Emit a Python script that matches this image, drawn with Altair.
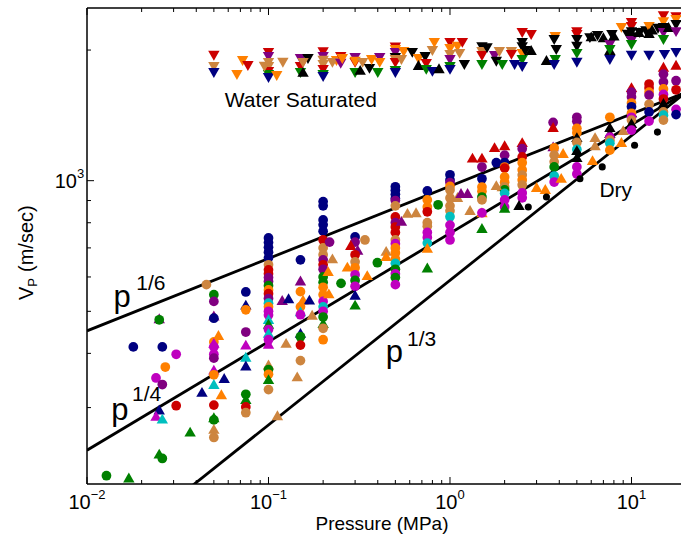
import altair as alt
import pandas as pd

# ---------------- colours of the rock samples ----------------
COLOR_CODES = ["N", "R", "P", "O", "T", "G", "C", "M", "K"]
COLOR_VALUES = ["#000080", "#cc0000", "#800080", "#ff8000", "#cd853f",
                "#008000", "#00bfbf", "#bf00bf", "#000000"]

# (pressure MPa, Vp m/s, colour, marker)  o = dry circle, ^ = dry triangle, v = water saturated
dry_low = [
    (0.0128, 209, "G", "o"), (0.017, 207, "G", "^"), (0.018, 414, "N", "o"), (0.026, 414, "N", "o"),
    (0.031, 398, "M", "o"), (0.027, 372, "O", "o"), (0.024, 351, "M", "o"), (0.026, 339, "P", "o"),
    (0.025, 297, "N", "^"), (0.024, 287, "M", "^"), (0.026, 283, "C", "^"), (0.031, 303, "R", "o"),
    (0.025, 235, "G", "^"), (0.026, 229, "G", "o"), (0.037, 264, "G", "^"), (0.025, 482, "P", "^"),
    (0.025, 478, "G", "o"), (0.043, 326, "N", "^"), (0.0455, 576, "T", "o"), (0.05, 546, "G", "o"),
    (0.05, 527, "P", "o"), (0.05, 489, "P", "^"), (0.05, 482, "N", "o"), (0.053, 441, "O", "^"),
    (0.05, 425, "O", "o"), (0.05, 423, "M", "^"), (0.05, 414, "M", "o"), (0.05, 398, "M", "o"),
    (0.05, 390, "P", "o"), (0.05, 367, "M", "^"), (0.05, 357, "O", "o"), (0.05, 340, "C", "^"),
    (0.057, 351, "N", "^"), (0.055, 322, "O", "^"), (0.05, 304, "R", "o"), (0.05, 285, "G", "^"),
    (0.05, 281, "G", "o"), (0.05, 268, "T", "^"), (0.05, 256, "T", "o"),
    (0.075, 554, "N", "o"), (0.075, 518, "N", "^"), (0.075, 504, "O", "o"), (0.075, 448, "P", "o"),
    (0.075, 419, "M", "^"), (0.075, 393, "C", "^"), (0.075, 375, "N", "^"), (0.075, 322, "G", "o"),
    (0.075, 314, "G", "^"), (0.075, 301, "R", "o"), (0.075, 292, "T", "o"),
]

dry_01_03 = [
    (0.1, 738, "N", "o"), (0.1, 720, "N", "o"), (0.1, 702, "N", "o"), (0.1, 684, "N", "o"),
    (0.1, 664, "N", "o"), (0.1, 640, "T", "o"), (0.1, 623, "R", "o"), (0.1, 610, "R", "o"),
    (0.1, 598, "P", "o"), (0.1, 586, "P", "o"), (0.1, 573, "G", "o"), (0.1, 560, "O", "o"),
    (0.1, 549, "R", "o"), (0.1, 535, "P", "o"), (0.1, 522, "C", "o"), (0.1, 512, "O", "o"),
    (0.1, 500, "M", "o"), (0.1, 490, "M", "o"), (0.1, 480, "C", "^"), (0.1, 468, "G", "^"),
    (0.1, 454, "M", "o"), (0.1, 446, "C", "^"), (0.1, 430, "M", "o"), (0.1, 421, "M", "^"),
    (0.1, 377, "T", "^"), (0.1, 367, "G", "o"), (0.1, 358, "O", "o"), (0.1, 349, "G", "^"),
    (0.1, 330, "T", "o"), (0.112, 288, "T", "^"), (0.125, 423, "T", "^"), (0.119, 531, "P", "^"),
    (0.129, 536, "N", "^"),
    (0.15, 657, "N", "o"), (0.15, 589, "P", "^"), (0.15, 555, "O", "o"), (0.155, 532, "O", "^"),
    (0.168, 532, "N", "^"), (0.15, 512, "O", "o"), (0.15, 500, "C", "^"), (0.15, 491, "M", "o"),
    (0.15, 446, "N", "^"), (0.15, 437, "G", "o"), (0.15, 418, "R", "o"), (0.15, 385, "T", "o"),
    (0.144, 354, "T", "^"), (0.174, 491, "T", "^"),
    (0.2, 895, "N", "o"), (0.2, 875, "N", "o"), (0.2, 812, "N", "o"), (0.2, 791, "N", "o"),
    (0.2, 765, "N", "o"), (0.2, 730, "R", "o"), (0.2, 700, "T", "o"), (0.2, 675, "T", "o"),
    (0.2, 657, "P", "o"), (0.2, 640, "R", "o"), (0.2, 625, "P", "o"), (0.2, 600, "G", "o"),
    (0.2, 583, "G", "o"), (0.2, 568, "O", "o"), (0.2, 546, "O", "o"), (0.2, 527, "M", "o"),
    (0.2, 512, "C", "o"), (0.2, 500, "M", "o"), (0.2, 485, "G", "o"), (0.2, 470, "G", "^"),
    (0.2, 457, "T", "o"), (0.2, 430, "O", "o"), (0.217, 722, "P", "o"), (0.225, 662, "T", "^"),
    (0.213, 619, "O", "^"), (0.215, 550, "O", "^"),
    (0.3, 742, "N", "o"), (0.3, 722, "P", "o"), (0.284, 711, "R", "^"), (0.31, 693, "P", "^"),
    (0.3, 675, "R", "o"), (0.34, 730, "T", "o"), (0.3, 650, "T", "o"), (0.272, 634, "O", "^"),
    (0.3, 630, "O", "o"), (0.3, 607, "M", "o"), (0.3, 589, "G", "o"), (0.3, 571, "M", "o"),
    (0.3, 546, "N", "^"), (0.3, 518, "G", "^"), (0.35, 606, "O", "^"), (0.251, 580, "G", "o"),
    (0.398, 647, "G", "o"), (0.445, 689, "T", "^"), (0.445, 670, "O", "^"),
]

dry_05_2 = [
    (0.5, 968, "N", "o"), (0.5, 950, "N", "o"), (0.5, 930, "N", "o"), (0.5, 910, "N", "o"),
    (0.5, 900, "P", "o"), (0.5, 875, "T", "o"), (0.5, 825, "R", "o"), (0.5, 800, "P", "o"),
    (0.5, 782, "R", "o"), (0.5, 760, "R", "o"), (0.5, 730, "T", "o"), (0.5, 716, "M", "o"),
    (0.5, 700, "O", "o"), (0.5, 682, "O", "o"), (0.5, 660, "O", "o"), (0.5, 645, "C", "o"),
    (0.5, 625, "G", "o"), (0.5, 610, "M", "o"), (0.5, 598, "G", "o"), (0.5, 576, "M", "o"),
    (0.54, 808, "P", "^"), (0.583, 843, "T", "^"), (0.65, 846, "T", "^"),
    (0.75, 947, "N", "o"), (0.75, 903, "O", "o"), (0.75, 870, "O", "o"), (0.75, 848, "R", "o"),
    (0.75, 800, "T", "o"), (0.75, 785, "T", "o"), (0.75, 760, "M", "o"), (0.75, 740, "M", "o"),
    (0.75, 718, "C", "o"), (0.75, 700, "O", "^"), (0.75, 631, "G", "^"), (0.86, 880, "G", "o"),
    (1.0, 1032, "N", "o"), (1.0, 1004, "N", "o"), (1.0, 990, "P", "o"), (1.0, 970, "O", "o"),
    (1.0, 952, "T", "o"), (1.0, 912, "T", "o"), (1.0, 875, "T", "o"), (1.0, 852, "T", "o"),
    (1.0, 826, "C", "o"), (1.0, 790, "M", "o"), (1.0, 760, "M", "o"), (1.0, 730, "M", "o"),
    (1.1, 917, "T", "^"), (1.15, 937, "P", "^"), (1.25, 937, "P", "^"), (1.29, 856, "T", "^"),
    (1.33, 1130, "R", "^"), (1.5, 1130, "R", "^"),
    (1.5, 1075, "P", "o"), (1.5, 1010, "N", "o"), (1.5, 967, "O", "o"), (1.5, 945, "O", "o"),
    (1.5, 917, "G", "o"), (1.5, 903, "T", "o"), (1.5, 846, "O", "^"), (1.5, 843, "M", "o"),
    (1.5, 778, "G", "^"), (1.76, 1195, "R", "^"), (2.0, 1207, "R", "^"), (1.8, 1100, "N", "o"),
    (2.0, 1145, "P", "o"),
    (2.0, 1100, "N", "o"), (2.0, 1075, "O", "o"), (2.0, 1069, "R", "o"), (2.0, 1020, "O", "o"),
    (2.0, 992, "O", "o"), (2.0, 967, "T", "o"), (1.94, 970, "T", "^"), (2.0, 952, "G", "o"),
    (2.0, 935, "C", "o"), (2.0, 903, "M", "o"), (2.0, 870, "M", "o"), (2.0, 866, "G", "^"),
    (1.8, 977, "T", "^"),
]

dry_25_18 = [
    (2.5, 1227, "R", "^"), (2.5, 1185, "P", "o"), (2.5, 1134, "R", "o"), (2.5, 1100, "O", "o"),
    (2.5, 1058, "O", "o"), (2.5, 1030, "T", "o"), (2.5, 1004, "O", "o"), (2.5, 977, "T", "o"),
    (2.5, 937, "M", "o"), (2.5, 913, "M", "o"), (2.4, 879, "K", "^"), (2.7, 870, "K", "o"),
    (3.0, 967, "O", "^"), (3.35, 957, "O", "^"), (3.4, 917, "K", "o"),
    (3.7, 1362, "P", "o"), (3.7, 1330, "R", "^"), (3.7, 1200, "P", "^"), (3.75, 1190, "O", "o"),
    (3.75, 1145, "T", "o"), (3.75, 1105, "T", "o"), (3.75, 1076, "G", "o"), (3.75, 1025, "C", "o"),
    (3.75, 993, "M", "o"), (4.2, 1158, "O", "^"), (4.1, 1015, "O", "^"),
    (5.0, 1400, "P", "o"), (5.0, 1370, "P", "o"), (5.0, 1320, "O", "o"), (5.0, 1290, "O", "o"),
    (5.0, 1260, "K", "^"), (5.0, 1225, "T", "o"), (5.0, 1180, "C", "o"), (5.0, 1176, "K", "^"),
    (5.0, 1133, "K", "^"), (5.0, 1076, "M", "o"), (5.0, 1036, "M", "o"), (5.2, 1010, "K", "o"),
    (6.3, 1260, "T", "^"), (6.3, 1207, "T", "^"), (6.1, 1115, "O", "^"), (6.9, 1076, "K", "o"),
    (7.6, 1400, "O", "o"), (7.6, 1329, "K", "^"), (7.6, 1287, "K", "^"), (7.6, 1260, "M", "o"),
    (7.6, 1240, "T", "o"), (7.6, 1220, "C", "o"), (7.6, 1176, "O", "o"),
    (8.8, 1228, "O", "^"), (9.0, 1308, "T", "^"), (10.4, 1207, "K", "o"),
    (10, 1643, "R", "^"), (10, 1600, "P", "o"), (10, 1560, "P", "o"), (10, 1510, "O", "o"),
    (10, 1480, "N", "o"), (10, 1438, "K", "^"), (10, 1430, "O", "o"), (10, 1400, "M", "o"),
    (10, 1379, "T", "o"), (10, 1357, "K", "^"), (10, 1308, "M", "o"),
    (12.5, 1670, "R", "o"), (12.5, 1635, "R", "o"), (12.5, 1600, "O", "o"), (12.5, 1575, "P", "o"),
    (12.5, 1500, "T", "o"), (12.5, 1440, "N", "o"), (12.5, 1372, "M", "o"), (13.9, 1294, "K", "o"),
    (15, 1830, "R", "^"), (15, 1760, "P", "o"), (15, 1688, "P", "o"), (15, 1627, "O", "o"),
    (15, 1580, "M", "o"), (15, 1542, "R", "o"), (15, 1510, "K", "^"), (15, 1440, "T", "o"),
    (15, 1416, "C", "o"), (15, 1379, "T", "o"),
    (17.6, 1850, "R", "^"), (17.6, 1700, "P", "o"), (17.6, 1620, "R", "o"), (17.6, 1460, "M", "o"),
    (17.6, 1420, "N", "o"),
]

wet_low = [
    (0.05, 1940, "R", "v"), (0.05, 1828, "T", "v"), (0.05, 1771, "N", "v"), (0.067, 1752, "O", "v"),
    (0.072, 1887, "O", "v"), (0.077, 1838, "R", "v"),
    (0.1, 1970, "R", "v"), (0.1, 1928, "P", "v"), (0.1, 1868, "T", "v"), (0.1, 1828, "T", "v"),
    (0.1, 1781, "R", "v"), (0.1, 1752, "G", "v"), (0.1, 1724, "N", "v"), (0.111, 1743, "O", "v"),
    (0.095, 1830, "T", "v"), (0.12, 1870, "T", "v"),
    (0.15, 1907, "P", "v"), (0.15, 1828, "R", "v"), (0.15, 1771, "G", "v"), (0.155, 1781, "K", "^"),
    (0.165, 1907, "K", "v"), (0.155, 1868, "T", "v"),
    (0.2, 1978, "R", "v"), (0.2, 1928, "P", "v"), (0.2, 1890, "T", "v"), (0.2, 1848, "T", "v"),
    (0.2, 1800, "R", "v"), (0.2, 1752, "G", "v"), (0.2, 1733, "N", "v"), (0.237, 1887, "O", "v"),
    (0.225, 1868, "T", "v"), (0.25, 1928, "R", "v"), (0.25, 1860, "P", "v"), (0.255, 1907, "O", "v"),
]

wet_mid = [
    (0.3, 1918, "P", "v"), (0.3, 1868, "R", "v"), (0.3, 1880, "O", "v"), (0.33, 1868, "T", "v"),
    (0.3, 1771, "G", "v"), (0.32, 1800, "K", "^"), (0.36, 1810, "K", "v"), (0.37, 1897, "O", "v"),
    (0.41, 1918, "P", "v"), (0.40, 1771, "G", "v"), (0.41, 1868, "O", "v"),
    (0.5, 2027, "R", "v"), (0.5, 2001, "O", "v"), (0.5, 1970, "P", "v"), (0.5, 1918, "K", "v"),
    (0.5, 1897, "T", "v"), (0.5, 1868, "R", "v"), (0.5, 1790, "G", "v"), (0.5, 1771, "N", "v"),
    (0.556, 1980, "O", "v"), (0.62, 1970, "K", "v"), (0.54, 1897, "T", "v"), (0.67, 1907, "O", "v"),
    (0.73, 1928, "K", "v"), (0.67, 1848, "K", "^"), (0.74, 1858, "R", "v"), (0.74, 1800, "G", "v"),
    (0.8, 1990, "T", "v"), (0.8, 1781, "N", "v"), (0.82, 2077, "O", "v"), (0.87, 1816, "K", "^"),
    (1.0, 2077, "R", "v"), (1.0, 2012, "O", "v"), (1.0, 1949, "T", "v"), (1.0, 1897, "P", "v"),
    (1.0, 1828, "G", "v"), (1.0, 1800, "N", "v"), (1.1, 2035, "O", "v"), (1.17, 2077, "R", "v"),
    (1.13, 1960, "T", "v"), (1.2, 1848, "K", "v"),
    (1.5, 2032, "K", "v"), (1.5, 1980, "T", "v"), (1.5, 1938, "R", "v"), (1.5, 1848, "G", "v"),
    (1.6, 2020, "K", "v"), (1.76, 1938, "P", "v"), (1.8, 1880, "K", "v"), (1.87, 1980, "T", "v"),
    (1.94, 1848, "G", "v"), (2.18, 1980, "T", "v"), (2.27, 1848, "N", "v"), (2.18, 1950, "R", "v"),
]

wet_high = [
    (2.5, 2190, "R", "v"), (2.8, 2167, "R", "v"), (2.5, 2077, "K", "v"), (2.5, 2032, "K", "v"),
    (2.5, 1960, "O", "v"), (2.5, 1897, "G", "v"), (2.5, 1828, "N", "v"), (2.6, 1990, "K", "v"),
    (2.8, 2001, "K", "^"), (3.4, 1897, "K", "^"), (3.8, 2145, "O", "v"), (3.75, 2110, "K", "v"),
    (3.85, 2001, "K", "v"), (3.8, 1897, "G", "v"), (3.75, 1848, "N", "v"),
    (5.0, 2200, "R", "v"), (5.0, 2167, "R", "v"), (5.0, 2110, "K", "v"), (5.0, 2035, "K", "v"),
    (5.0, 1960, "G", "v"), (5.0, 1870, "N", "v"),
    (5.9, 2130, "K", "v"), (6.0, 2150, "K", "^"), (6.5, 2155, "K", "v"), (7.0, 2140, "K", "^"),
    (7.8, 2167, "K", "v"), (7.6, 2055, "P", "v"), (7.6, 2001, "K", "^"), (7.6, 2001, "G", "v"),
    (7.6, 1897, "N", "v"), (8.0, 2160, "K", "^"), (8.8, 2250, "O", "v"), (9.5, 2170, "K", "v"),
    (10, 2310, "R", "v"), (10, 2260, "R", "v"), (10, 2200, "K", "v"), (10, 2140, "K", "v"),
    (10, 2100, "P", "v"), (10, 2055, "G", "v"), (10, 1940, "N", "v"), (11.1, 2190, "K", "v"),
    (11, 2200, "K", "^"), (12, 2210, "K", "v"), (12.5, 2260, "O", "v"), (12.5, 2190, "K", "^"),
    (12.5, 1940, "N", "v"), (13, 2230, "K", "^"), (14, 2240, "K", "v"),
    (15, 2393, "R", "v"), (15, 2320, "O", "v"), (15, 2250, "K", "v"), (15, 2190, "P", "v"),
    (15, 2110, "G", "v"), (15.2, 1949, "N", "v"), (16, 2260, "K", "^"),
    (17.6, 2380, "R", "v"), (17.6, 2346, "O", "v"), (17.6, 2285, "K", "v"), (17.6, 2200, "P", "v"),
    (17.6, 1970, "N", "v"),
]

# power-law reference lines V = V_REF * (p / P_REF) ** n
LINE_EXPONENTS = [1 / 6, 1 / 4, 1 / 3]
P_REF, V_REF = 20.0, 1600.0
LINE_P = [0.01, 20.0]

# annotations: text, pressure, velocity, font size
annot_text = ["p", "1/6", "p", "1/4", "p", "1/3", "Water Saturated", "Dry"]
annot_p = [0.0140, 0.0187, 0.0136, 0.0177, 0.443, 0.580, 0.0574, 6.66]
annot_v = [512, 560, 281, 310, 382, 417, 1478, 917]
annot_size = [31, 21, 31, 21, 31, 21, 21, 21]

# axis ticks
X_MAJOR = [0.01, 0.1, 1, 10]
X_EXP = ["\u22122", "\u22121", "0", "1"]
X_MINOR = [m * 10.0 ** k for k in (-2, -1, 0) for m in range(2, 10)]
Y_MAJOR = [1000]
Y_MINOR = [300, 400, 500, 600, 700, 800, 900, 2000]

# ---------------- chart ----------------
W, H = 594, 476
X_DOMAIN = [0.01, 18.74]
Y_DOMAIN = [200, 2500]
FONT = "Liberation Sans"

xs = alt.Scale(type="log", domain=X_DOMAIN, nice=False)
ys = alt.Scale(type="log", domain=Y_DOMAIN, nice=False)


def X(f="p"):
    return alt.X(f"{f}:Q", scale=xs, axis=None)


def Y(f="v"):
    return alt.Y(f"{f}:Q", scale=ys, axis=None)


rows = []
for arr in (wet_low, wet_mid, wet_high, dry_low, dry_01_03, dry_05_2, dry_25_18):
    for p, v, c, s in arr:
        if c == "K" and s == "o":
            sz = 50
        elif s == "o":
            sz = 95
        else:
            sz = 130
        rows.append({"p": p, "v": v, "c": c, "s": s, "sz": sz})
pts = pd.DataFrame(rows)

points = alt.Chart(pts).mark_point(filled=True, opacity=1, strokeWidth=0, clip=True).encode(
    x=X(), y=Y(),
    color=alt.Color("c:N", scale=alt.Scale(domain=COLOR_CODES, range=COLOR_VALUES), legend=None),
    shape=alt.Shape("s:N", scale=alt.Scale(domain=["o", "^", "v"],
                                           range=["circle", "triangle-up", "triangle-down"]), legend=None),
    size=alt.Size("sz:Q", scale=None),
)

line_rows = []
for i, n in enumerate(LINE_EXPONENTS):
    for p in LINE_P:
        line_rows.append({"p": p, "v": V_REF * (p / P_REF) ** n, "k": i})
lines = alt.Chart(pd.DataFrame(line_rows)).mark_line(color="black", strokeWidth=2.8, clip=True).encode(
    x=X(), y=Y(), detail="k:N")

ann = pd.DataFrame({"t": annot_text, "p": annot_p, "v": annot_v, "fs": annot_size})
annots = alt.Chart(ann).mark_text(align="left", baseline="alphabetic", font=FONT, color="black").encode(
    x=X(), y=Y(), text="t:N", size=alt.Size("fs:Q", scale=None))

# frame
one = pd.DataFrame({"a": [0]})
frame_top = alt.Chart(one).mark_rule(color="black", strokeWidth=1.5).encode(
    x=alt.value(0), x2=alt.value(W), y=alt.value(0))
frame_bot = alt.Chart(one).mark_rule(color="black", strokeWidth=1.5).encode(
    x=alt.value(0), x2=alt.value(W), y=alt.value(H))
frame_left = alt.Chart(one).mark_rule(color="black", strokeWidth=1.5).encode(
    x=alt.value(0), y=alt.value(0), y2=alt.value(H))

MAJ, MIN = 7, 4
xmaj = pd.DataFrame({"p": X_MAJOR})
xmin = pd.DataFrame({"p": X_MINOR})
ymaj = pd.DataFrame({"v": Y_MAJOR})
ymin = pd.DataFrame({"v": Y_MINOR})
tick = dict(color="black", strokeWidth=1)
ticks = [
    alt.Chart(xmaj).mark_rule(**tick).encode(x=X(), y=alt.value(H), y2=alt.value(H - MAJ)),
    alt.Chart(xmin).mark_rule(**tick).encode(x=X(), y=alt.value(H), y2=alt.value(H - MIN)),
    alt.Chart(xmaj).mark_rule(**tick).encode(x=X(), y=alt.value(0), y2=alt.value(MAJ)),
    alt.Chart(xmin).mark_rule(**tick).encode(x=X(), y=alt.value(0), y2=alt.value(MIN)),
    alt.Chart(ymaj).mark_rule(**tick).encode(y=Y(), x=alt.value(0), x2=alt.value(MAJ)),
    alt.Chart(ymin).mark_rule(**tick).encode(y=Y(), x=alt.value(0), x2=alt.value(MIN)),
]

# tick labels  10^k
BASE_FS, EXP_FS = 20, 13
base_w = 1.112 * BASE_FS
labels = []
for val, e in zip(X_MAJOR, X_EXP):
    ew = (0.584 + 0.556) * EXP_FS if e.startswith("\u2212") else 0.556 * EXP_FS
    k = base_w - (base_w + ew) / 2
    d = pd.DataFrame({"p": [val], "b": ["10"], "e": [e]})
    labels.append(alt.Chart(d).mark_text(align="right", baseline="alphabetic", dx=k, fontSize=BASE_FS,
                                         font=FONT, color="black").encode(x=X(), y=alt.value(H + 25), text="b:N"))
    labels.append(alt.Chart(d).mark_text(align="left", baseline="alphabetic", dx=k, fontSize=EXP_FS,
                                         font=FONT, color="black").encode(x=X(), y=alt.value(H + 15), text="e:N"))

yl = pd.DataFrame({"v": [1000], "b": ["10"], "e": ["3"]})
labels.append(alt.Chart(yl).mark_text(align="right", baseline="alphabetic", dy=7, fontSize=BASE_FS,
                                      font=FONT, color="black").encode(x=alt.value(-10), y=Y(), text="b:N"))
labels.append(alt.Chart(yl).mark_text(align="left", baseline="alphabetic", dy=-3, fontSize=EXP_FS,
                                      font=FONT, color="black").encode(x=alt.value(-10), y=Y(), text="e:N"))

# axis titles
xt = alt.Chart(one).mark_text(text="Pressure (MPa)", align="center", baseline="alphabetic", fontSize=19,
                              font=FONT, color="black").encode(x=alt.value(295), y=alt.value(H + 46))
YT_X, YT_Y = -60, 292
yt_v = alt.Chart(one).mark_text(text="V", angle=270, align="left", baseline="middle", fontSize=20,
                                font=FONT, color="black").encode(x=alt.value(YT_X), y=alt.value(YT_Y))
yt_p = alt.Chart(one).mark_text(text="P", angle=270, align="left", baseline="middle", fontSize=13,
                                font=FONT, color="black").encode(x=alt.value(YT_X + 6), y=alt.value(YT_Y - 13.3))
yt_r = alt.Chart(one).mark_text(text="(m/sec)", angle=270, align="left", baseline="middle", fontSize=20,
                                font=FONT, color="black").encode(x=alt.value(YT_X), y=alt.value(YT_Y - 28))

chart = alt.layer(
    lines, points, annots, frame_top, frame_bot, frame_left, *ticks, *labels, xt, yt_v, yt_p, yt_r
).properties(
    width=W, height=H,
    autosize=alt.AutoSizeParams(type="none"),
    padding={"left": 87, "top": 8, "right": 0, "bottom": 62},
    background="white",
).configure_view(strokeWidth=0)

chart.save("out.html", embed_options={"renderer": "svg", "actions": False})
